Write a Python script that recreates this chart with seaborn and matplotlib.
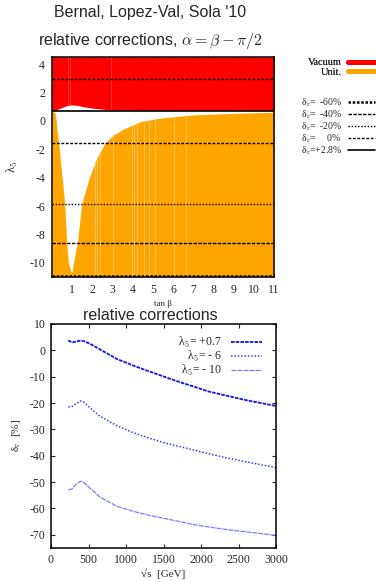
import numpy as np
import pandas as pd
import seaborn as sns
import matplotlib
matplotlib.use("Agg")
import matplotlib.pyplot as plt
from matplotlib.lines import Line2D

# ---- top panel: allowed regions in (tan beta, lambda5) ----
tanb_unit = [0.0, 0.15, 0.36, 0.5, 0.63, 0.73, 0.81, 0.98, 1.06, 1.26, 1.47, 1.85,
             2.2, 2.63, 3.0, 3.5, 4.4, 5.4, 7.0, 8.4, 10.0, 11.0]
unit_top = [0.65, 0.6, -2.0, -4.0, -5.85, -8.57, -10.0, -10.8, -10.0, -8.57, -5.85, -4.0,
            -2.7, -1.55, -1.05, -0.6, -0.05, 0.2, 0.42, 0.5, 0.57, 0.61]

tanb_vac = [0.0, 0.15, 0.5, 0.75, 0.95, 1.3, 1.55, 2.05, 2.6, 3.2, 4.5, 11.0]
vac_low = [0.72, 0.74, 0.95, 1.08, 1.13, 1.08, 1.0, 0.89, 0.81, 0.77, 0.74, 0.72]

orange_streaks = [2.14, 2.23, 2.39, 3.03, 3.96, 4.05, 4.21, 4.54, 4.79, 5.12, 6.03, 6.62]
red_streaks = [0.8, 0.88, 2.9]

delta_labels = ["δ$_\\mathrm{r}$=  -60%", "δ$_\\mathrm{r}$=  -40%", "δ$_\\mathrm{r}$=  -20%",
                "δ$_\\mathrm{r}$=     0%", "δ$_\\mathrm{r}$=+2.8%"]
delta_levels = [[-10.93], [-8.57], [-5.85], [-1.57, 2.96], [0.72]]
delta_styles = [(0, (1, 0.7)), (0, (2.5, 1)), (0, (1, 1.3)), (0, (2, 1.2)), "-"]
delta_widths = [1.8, 1.0, 1.0, 1.0, 1.2]

# ---- bottom panel: relative corrections vs sqrt(s) ----
sqrt_s = [230, 280, 330, 390, 440, 520, 650, 880, 1100, 1320, 1500, 1700, 1900,
          2100, 2340, 2600, 3000]
corr_p07 = [3.8, 3.0, 3.3, 3.7, 3.5, 2.5, 0.4, -3.3, -5.8, -8.1, -9.9, -11.9, -13.7,
            -15.6, -17.2, -18.9, -21.1]
corr_m6 = [-21.5, -21.3, -20.3, -19.2, -19.7, -21.8, -25.0, -28.6, -31.3, -33.4, -35.0,
           -36.4, -37.8, -39.2, -40.8, -42.3, -44.5]
corr_m10 = [-52.9, -52.6, -51.0, -49.7, -50.2, -52.3, -55.6, -59.2, -61.1, -62.7, -63.7,
            -64.9, -66.1, -67.0, -68.0, -68.9, -70.2]
lam_labels = ["λ$_5$= +0.7", "λ$_5$= - 6", "λ$_5$= - 10"]

sns.set_style("ticks")
plt.rcParams["font.family"] = ["Liberation Serif", "DejaVu Serif"]
plt.rcParams["mathtext.fontset"] = "cm"
plt.rcParams["axes.unicode_minus"] = False
plt.rcParams["xtick.direction"] = "in"
plt.rcParams["ytick.direction"] = "in"
plt.rcParams["xtick.top"] = True
plt.rcParams["ytick.right"] = True
plt.rcParams["axes.edgecolor"] = "black"
plt.rcParams["axes.linewidth"] = 1.1

fig = plt.figure(figsize=(3.76, 5.82), dpi=100)
ax1 = fig.add_axes([52 / 376, 1 - 277 / 582, 222 / 376, 220 / 582])
ax2 = fig.add_axes([51 / 376, 1 - 548 / 582, 225 / 376, 224 / 582])

# top panel
red = ax1.fill_between(tanb_vac, vac_low, 4.5, color="#ff0000", lw=0)
orange = ax1.fill_between(tanb_unit, -11, unit_top, color="#ffa500", lw=0)
st = ax1.vlines(orange_streaks, -11, 4.5, color="#ffc566", lw=0.6)
st.set_clip_path(orange.get_paths()[0], ax1.transData)
st2 = ax1.vlines(red_streaks, -11, 4.5, color="#ff3a3a", lw=0.6)
st2.set_clip_path(red.get_paths()[0], ax1.transData)

delta_handles = []
for lev, ls, lw in zip(delta_levels, delta_styles, delta_widths):
    for y in lev:
        ax1.axhline(y, color="black", linestyle=ls, lw=lw)
    delta_handles.append(Line2D([], [], color="black", linestyle=ls, lw=lw))

ax1.set_xlim(0, 11)
ax1.set_ylim(-11, 4.5)
ax1.set_xticks(range(1, 12))
ax1.set_yticks(range(-10, 5, 2))
ax1.tick_params(labelsize=8.5, length=3, width=0.8, pad=5)
ax1.set_xlabel("tan β", fontsize=6.5, labelpad=3)
ax1.set_ylabel("λ$_5$", fontsize=9, labelpad=7)

leg1 = fig.legend([Line2D([], [], color="#ff0000", lw=3.5), Line2D([], [], color="#ffa500", lw=3.5)],
                  ["Vacuum", "Unit."], loc="upper right", bbox_to_anchor=(0.998, 1 - 58 / 582),
                  frameon=False, markerfirst=False, fontsize=7.5, handlelength=2.6,
                  handletextpad=0.6, labelspacing=0.0, borderpad=0, borderaxespad=0)
fig.add_artist(leg1)
fig.legend(delta_handles, delta_labels, loc="upper right", bbox_to_anchor=(0.998, 1 - 96 / 582),
           frameon=False, markerfirst=False, fontsize=7, handlelength=2.8,
           handletextpad=0.6, labelspacing=-0.05, borderpad=0, borderaxespad=0)

# bottom panel
df = pd.DataFrame({"s": sqrt_s, "p07": corr_p07, "m6": corr_m6, "m10": corr_m10})
sns.lineplot(data=df, x="s", y="p07", ax=ax2, color="#1515e8", lw=1.3,
             linestyle=(0, (2, 0.6)), label=lam_labels[0])
sns.lineplot(data=df, x="s", y="m6", ax=ax2, color="#3a3aff", lw=1.1,
             linestyle=(0, (1, 1.2)), label=lam_labels[1])
sns.lineplot(data=df, x="s", y="m10", ax=ax2, color="#7d7dff", lw=0.9,
             linestyle=(0, (4, 0.8)), label=lam_labels[2])
ax2.set_xlim(0, 3000)
ax2.set_ylim(-75, 10)
ax2.set_xticks(range(0, 3001, 500))
ax2.set_yticks(range(-70, 11, 10))
ax2.tick_params(labelsize=8.5, length=3, width=0.8, pad=4)
ax2.set_xlabel("√s  [GeV]", fontsize=8, labelpad=2)
ax2.set_ylabel("δ$_\\mathrm{r}$  [%]", fontsize=8, labelpad=5)
ax2.legend(loc="upper right", bbox_to_anchor=(262 / 376, 1 - 335 / 582),
           bbox_transform=fig.transFigure, frameon=False, markerfirst=False, fontsize=8.5,
           handlelength=2.6, handletextpad=0.8, labelspacing=-0.1, borderpad=0, borderaxespad=0)

# titles
fig.text(150 / 376, 1 - 13 / 582, "Bernal, Lopez-Val, Sola '10", ha="center", va="center",
         fontsize=11.5, family="Liberation Sans")
fig.text(150 / 376, 1 - 45 / 582, "relative corrections, $\\alpha = \\beta - \\pi/2$",
         ha="center", va="baseline", fontsize=11.5, family="Liberation Sans")
fig.text(150 / 376, 1 - 320 / 582, "relative corrections", ha="center", va="baseline",
         fontsize=11.5, family="Liberation Sans")

fig.savefig("out.png", dpi=100)
